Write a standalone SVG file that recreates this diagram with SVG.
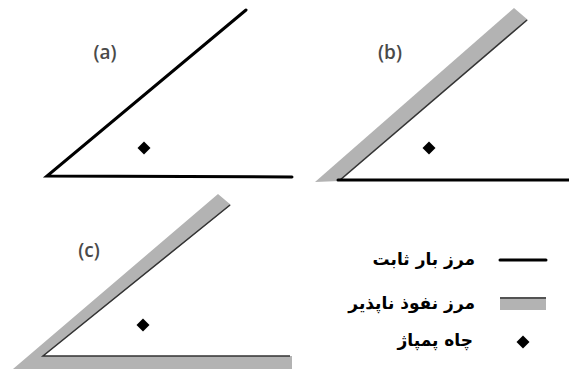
<svg xmlns="http://www.w3.org/2000/svg" width="569" height="372" viewBox="0 0 569 372">
<style>
.fix{stroke:#000;stroke-width:3;fill:none;stroke-linecap:round}
.edge{stroke:#333;stroke-width:1.5;fill:none}
.band{fill:#b3b3b3;stroke:none}
.well{fill:#000}
.lbl{font-family:"Open Sans","DejaVu Sans",sans-serif;font-size:19px;font-weight:600;fill:#4a4a4a}
.leg{font-family:"DejaVu Sans",sans-serif;font-size:17px;font-weight:bold;fill:#000}
</style>
<defs>
<path id="dia" d="M0,-6.5 L6.5,0 L0,6.5 L-6.5,0 Z"/>
</defs>
<g id="panel-a">
<text class="lbl" x="105" y="59" text-anchor="middle">(a)</text>
<path class="fix" d="M246,10 L47,176 L292,177"/>
<use href="#dia" class="well" x="144" y="148"/>
</g>
<g id="panel-b">
<text class="lbl" x="390" y="59" text-anchor="middle">(b)</text>
<polygon class="band" points="315,182 340,181 528,20 514,8"/>
<path class="edge" d="M340,180 L527,20"/>
<path class="fix" d="M338,180 L569,180"/>
<use href="#dia" class="well" x="429" y="148"/>
</g>
<g id="panel-c">
<text class="lbl" x="89" y="257" text-anchor="middle">(c)</text>
<polygon class="band" points="13,369 292,369 292,356 43,356 231,205 218,194"/>
<path class="edge" d="M230,205 L43,356 L290,356"/>
<use href="#dia" class="well" x="143" y="325"/>
</g>
<g id="legend">
<path class="fix" d="M500,260 L546,260" stroke-linecap="butt"/>
<text class="leg" x="475" y="265" text-anchor="end">مرز بار ثابت</text>
<rect class="band" x="500" y="297" width="46" height="13"/>
<path class="edge" d="M500,298 L546,298" stroke-width="2"/>
<text class="leg" x="475" y="309" text-anchor="end">مرز نفوذ ناپذیر</text>
<use href="#dia" class="well" x="523" y="342"/>
<text class="leg" x="473" y="346" text-anchor="end">چاه پمپاژ</text>
</g>
</svg>
